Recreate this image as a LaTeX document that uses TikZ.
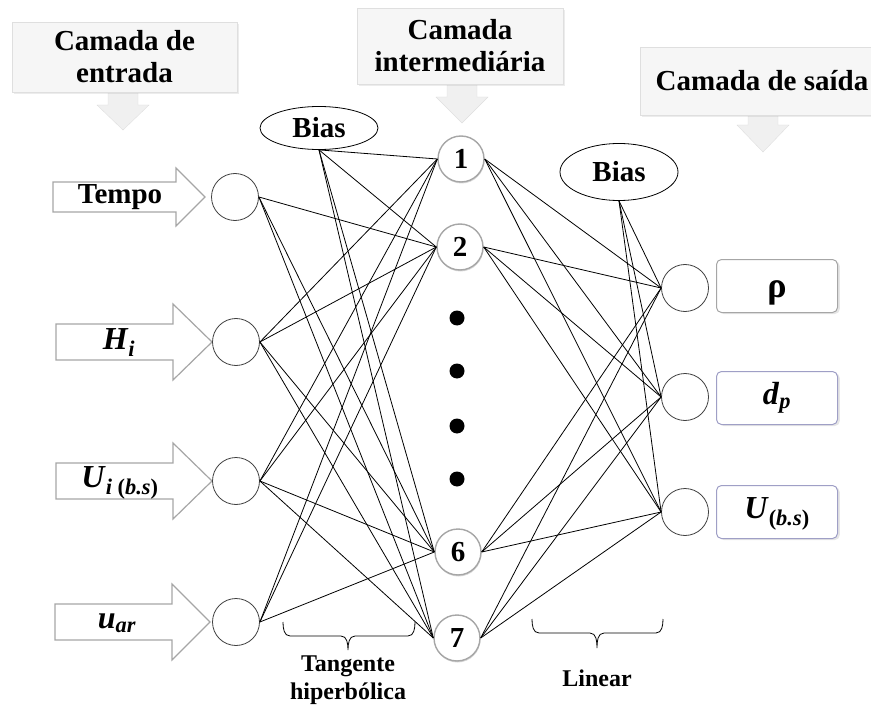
\documentclass[tikz,border=0pt]{standalone}
\usepackage{fontspec}
\setmainfont{Liberation Serif}
\usetikzlibrary{shapes.geometric,shadows}

\begin{document}
\begin{tikzpicture}[x=1pt,y=-1pt,
    big/.style={font=\bfseries\fontsize{29}{32}\selectfont},
    sym/.style={font=\bfseries\fontsize{32}{34}\selectfont},
    small/.style={font=\bfseries\fontsize{24}{28}\selectfont},
    header/.style={big, draw=gray!25, fill=gray!7, align=center, inner sep=0pt, drop shadow={opacity=.15}},
    downarrow/.style={draw=gray!25, fill=gray!12},
    inarrow/.style={draw=gray!70, line width=1.2pt, fill=white},
    neuron/.style={draw=black!75, circle, line width=.8pt, fill=white, minimum size=47pt, inner sep=0pt},
    hid/.style={neuron, big, draw=gray!70, line width=1.4pt, minimum size=46pt, drop shadow={opacity=.3, shadow xshift=.5pt, shadow yshift=-1.5pt}},
    bias/.style={big, draw, ellipse, line width=.8pt, inner sep=0pt, fill=white, minimum width=118pt},
    outbox/.style={sym, draw=gray!70, rounded corners=5pt, line width=1pt, minimum width=121pt, minimum height=53pt, text height=20pt, text depth=7pt, fill=white, drop shadow={opacity=.2, shadow yshift=-1.5pt}},
    link/.style={line width=.8pt}]
  \useasboundingbox (0,0) rectangle (871,706);

  % headers
  \draw[downarrow] (108,90) -- (108,105) -- (97,105) -- (123,130) -- (149,105) -- (138,105) -- (138,90) -- cycle;
  \draw[downarrow] (447,82) -- (447,97) -- (436,97) -- (462,123) -- (488,97) -- (477,97) -- (477,82) -- cycle;
  \draw[downarrow] (748,113) -- (748,125) -- (737,125) -- (763,152) -- (789,125) -- (778,125) -- (778,113) -- cycle;
  \node[header, minimum width=225pt, minimum height=70pt] (hin) at (124.5,57) {Camada de\\entrada};
  \node[header, minimum width=206pt, minimum height=76pt] (hmid) at (460,46) {Camada\\intermediária};
  \node[header, minimum width=244pt, minimum height=68pt] (hout) at (762,81) {Camada de saída};

  % input arrows
  \draw[inarrow] (53,182) -- (176,182) -- (176,168) -- (205,197) -- (176,226) -- (176,212) -- (53,212) -- cycle;
  \draw[inarrow] (56,324) -- (173,324) -- (173,304) -- (212,342) -- (173,380) -- (173,360) -- (56,360) -- cycle;
  \draw[inarrow] (56,463) -- (173,463) -- (173,443) -- (212,481) -- (173,519) -- (173,499) -- (56,499) -- cycle;
  \draw[inarrow] (55,604) -- (172,604) -- (172,584) -- (210,622) -- (172,660) -- (172,640) -- (55,640) -- cycle;
  \node[big] (tempo) at (120,197) {Tempo};
  \node[sym] (hi) at (119,343) {\textit{H}\textsubscript{\textit{i}}};
  \node[sym] (ui) at (120,483) {\textit{U}\textsubscript{\textit{i} (\textit{b.s})}};
  \node[sym] (uar) at (117,623) {\textit{u}\textsubscript{\textit{ar}}};

  % neurons
  \node[neuron] (x1) at (235,197) {};
  \node[neuron] (x2) at (236,342) {};
  \node[neuron] (x3) at (236,481) {};
  \node[neuron] (x4) at (236,622) {};
  \node[hid] (n1) at (461,159) {1};
  \node[hid] (n2) at (460,247) {2};
  \node[hid] (n6) at (458,552) {6};
  \node[hid] (n7) at (457,638) {7};
  \foreach \y in {318,371,426,479}
    \fill (457,\y) circle (7.5);
  \node[neuron] (o1) at (685,288) {};
  \node[neuron] (o2) at (685,397) {};
  \node[neuron] (o3) at (685,512) {};
  \node[bias, minimum height=43pt] (b1) at (319,128) {Bias};
  \node[bias, minimum height=57pt] (b2) at (619,172) {Bias};

  % outputs
  \node[outbox] (rho) at (777,286) {\raisebox{-5pt}{\fontsize{36}{36}\selectfont ρ}};
  \node[outbox, draw=blue!25!gray!60] (dp) at (777,398) {\textit{d}\textsubscript{\textit{p}}};
  \node[outbox, draw=blue!25!gray!60] (ubs) at (777,512) {\textit{U}\textsubscript{(\textit{b.s})}};

  % connections
  \foreach \a/\b in {x1/n2,x1/n6,x1/n7,x2/n1,x2/n2,x2/n6,x2/n7,x3/n1,x3/n2,x3/n6,x3/n7,x4/n1,x4/n2,x4/n6}
    \draw[link] (\a.east) -- (\b.west);
  \foreach \b in {n1,n2,n6,n7}
    \draw[link] (b1.south) -- (\b.west);
  \foreach \a in {n1,n2,n6,n7}
    \foreach \b in {o1,o2,o3}
      \draw[link] (\a.east) -- (\b.west);
  \foreach \b in {o1,o2,o3}
    \draw[link] (b2.south) -- (\b.west);

  % braces
  \draw[link] (283,622) to[out=-90,in=180] (290,636) -- (341,636) to[out=0,in=90] (348,650)
    to[out=90,in=180] (355,636) -- (408,636) to[out=0,in=-90] (415,622);
  \draw[link] (532,619) to[out=-90,in=180] (539,633) -- (590,633) to[out=0,in=90] (597,648)
    to[out=90,in=180] (604,633) -- (656,633) to[out=0,in=-90] (663,619);
  \node[small, align=center] (tanh) at (348,680) {Tangente\\hiperbólica};
  \node[small] (lin) at (597,678) {Linear};
\end{tikzpicture}
\end{document}
